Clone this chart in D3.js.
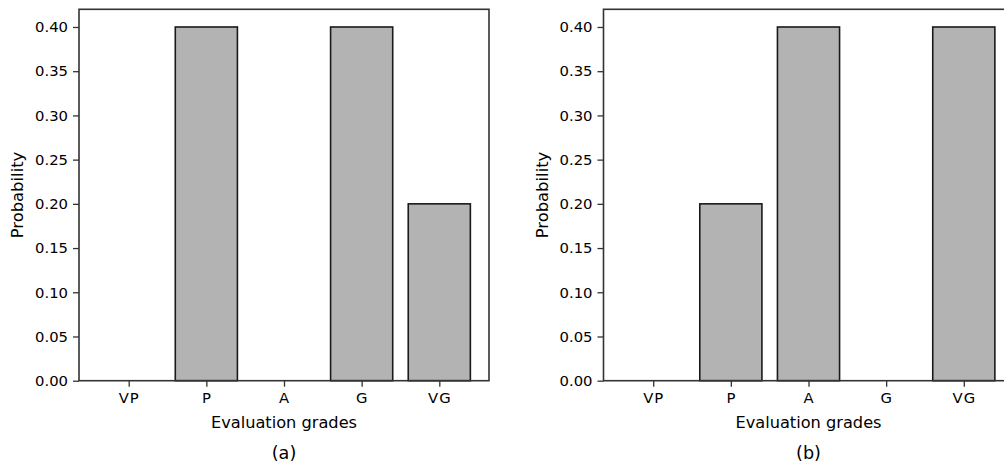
<!DOCTYPE html>
<html><head><meta charset="utf-8">
<script src="https://cdn.jsdelivr.net/npm/d3@7"></script>
<style>body{margin:0;background:#fff}text{font-family:"DejaVu Sans",sans-serif;fill:#000}</style>
</head><body>
<svg id="c" width="1004" height="466"></svg>
<script>
const categories = ["VP","P","A","G","VG"];
const valuesA = [0, 0.4, 0, 0.4, 0.2];
const valuesB = [0, 0.2, 0.4, 0, 0.4];
const yTicks = [0,0.05,0.1,0.15,0.2,0.25,0.3,0.35,0.4];
const panels = [{vals: valuesA, label: "(a)", left: 79}, {vals: valuesB, label: "(b)", left: 603.5}];

const svg = d3.select("#c");
const W = 410, plotTop = 9.3, plotBottom = 380.7;
panels.forEach(p => {
  const g = svg.append("g");
  const x = d3.scaleLinear().domain([-0.64, 4.64]).range([p.left, p.left + W]);
  const y = d3.scaleLinear().domain([0, 0.42]).range([plotBottom, plotTop]);
  // bars
  g.selectAll("rect.bar").data(p.vals).join("rect")
    .attr("x", (d,i) => x(i - 0.4)).attr("width", x(0.8) - x(0))
    .attr("y", d => y(d)).attr("height", d => y(0) - y(d))
    .attr("fill", "#b3b3b3").attr("stroke", "#1a1a1a").attr("stroke-width", 1.6);
  // frame
  g.append("rect").attr("x", p.left).attr("y", plotTop).attr("width", W).attr("height", plotBottom - plotTop)
    .attr("fill", "none").attr("stroke", "#333").attr("stroke-width", 1.6);
  // y axis
  const ya = g.append("g").attr("transform", `translate(${p.left},0)`)
    .call(d3.axisLeft(y).tickValues(yTicks).tickFormat(d3.format(".2f")).tickSize(6).tickPadding(5));
  ya.select(".domain").remove();
  ya.selectAll("line").attr("stroke", "#333").attr("stroke-width", 1.3);
  ya.selectAll("text").style("font-size", "14.8px").attr("font-family", "DejaVu Sans");
  // x axis
  const xa = g.append("g").attr("transform", `translate(0,${plotBottom})`)
    .call(d3.axisBottom(x).tickValues(d3.range(categories.length)).tickFormat(i => categories[i]).tickSize(6).tickPadding(6));
  xa.select(".domain").remove();
  xa.selectAll("line").attr("stroke", "#333").attr("stroke-width", 1.3);
  xa.selectAll("text").style("font-size", "14.8px").style("letter-spacing", "1px").attr("font-family", "DejaVu Sans");
  // labels
  g.append("text").attr("x", p.left + W/2).attr("y", 428).attr("text-anchor", "middle")
    .style("font-size", "16.2px").text("Evaluation grades");
  g.append("text").attr("transform", `translate(${p.left - 56},${(plotTop+plotBottom)/2}) rotate(-90)`)
    .attr("text-anchor", "middle").style("font-size", "16.4px").text("Probability");
  g.append("text").attr("x", p.left + W/2).attr("y", 458.5).attr("text-anchor", "middle")
    .style("font-size", "17.6px").text(p.label);
});
</script>
</body></html>
